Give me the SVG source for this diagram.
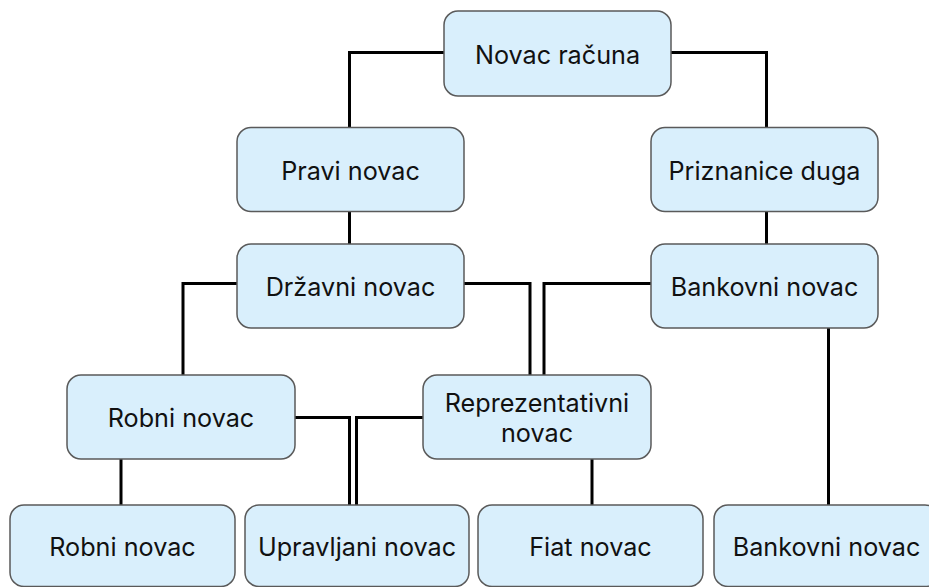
<svg xmlns="http://www.w3.org/2000/svg" width="929" height="587" viewBox="0 0 929 587">
<style>
.node rect{fill:#d9effc;stroke:#5a5a5a;stroke-width:1.5}
.node text{font-family:Inter,"Noto Sans","Liberation Sans",sans-serif;font-size:25.2px;fill:#111;text-anchor:middle}
.edges path{fill:none;stroke:#000;stroke-width:3}
</style>
<rect width="929" height="587" fill="#fff"/>
<g class="edges" id="connectors">
<path d="M444 52.5 H349.5 V127.5"/>
<path d="M671 52.5 H766.5 V127.5"/>
<path d="M349.5 211.5 V244"/>
<path d="M766.5 211.5 V244"/>
<path d="M237 283.5 H183 V375"/>
<path d="M464 283.5 H530 V375"/>
<path d="M651 283.5 H544 V375"/>
<path d="M828.5 328 V505"/>
<path d="M121 459 V505"/>
<path d="M295 417.5 H349.5 V505"/>
<path d="M423 417.5 H356.5 V505"/>
<path d="M592 459 V505"/>
</g>
<g class="node" id="n-novac-racuna"><rect x="444" y="11" width="227" height="85" rx="14"/><text x="557.5" y="63.5">Novac računa</text></g>
<g class="node" id="n-pravi-novac"><rect x="237" y="127.5" width="227" height="84" rx="14"/><text x="350.5" y="179.5">Pravi novac</text></g>
<g class="node" id="n-priznanice-duga"><rect x="651" y="127.5" width="227" height="84" rx="14"/><text x="764.5" y="179.5">Priznanice duga</text></g>
<g class="node" id="n-drzavni-novac"><rect x="237" y="244" width="227" height="84" rx="14"/><text x="350.5" y="296">Državni novac</text></g>
<g class="node" id="n-bankovni-novac"><rect x="651" y="244" width="227" height="84" rx="14"/><text x="764.5" y="296">Bankovni novac</text></g>
<g class="node" id="n-robni-novac"><rect x="67" y="375" width="228" height="84" rx="14"/><text x="181" y="427">Robni novac</text></g>
<g class="node" id="n-reprezentativni-novac"><rect x="423" y="375" width="228" height="84" rx="14"/><text x="537" y="411.5">Reprezentativni</text><text x="537" y="441.5">novac</text></g>
<g class="node" id="n-robni-novac-2"><rect x="10" y="505" width="225" height="81.5" rx="14"/><text x="122.5" y="556">Robni novac</text></g>
<g class="node" id="n-upravljani-novac"><rect x="245" y="505" width="224" height="81.5" rx="14"/><text x="357" y="556">Upravljani novac</text></g>
<g class="node" id="n-fiat-novac"><rect x="478" y="505" width="225" height="81.5" rx="14"/><text x="590.5" y="556">Fiat novac</text></g>
<g class="node" id="n-bankovni-novac-2"><rect x="714" y="505" width="225" height="81.5" rx="14"/><text x="826.5" y="556">Bankovni novac</text></g>
</svg>
